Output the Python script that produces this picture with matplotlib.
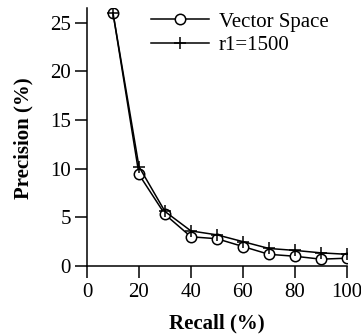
import matplotlib.pyplot as plt

recall = [10, 20, 30, 40, 50, 60, 70, 80, 90, 100]
vector_space = [26.0, 9.4, 5.3, 3.0, 2.8, 2.0, 1.2, 1.0, 0.7, 0.8]
r1_1500 = [26.0, 10.2, 5.6, 3.6, 3.2, 2.5, 1.8, 1.6, 1.35, 1.2]

plt.rcParams['font.family'] = ['Liberation Serif', 'DejaVu Serif']

fig = plt.figure(figsize=(3.61, 3.35), dpi=100)
ax = fig.add_axes([0.241, 0.206, 0.72, 0.77])

ax.plot(recall, vector_space, color='black', lw=1.1, marker='o', ms=7.5,
        mfc='white', mec='black', mew=1.1, label='Vector Space')
ax.plot(recall, r1_1500, color='black', lw=1.1, marker='+', ms=9,
        mew=1.1, label='r1=1500')

ax.set_xlim(0, 100)
ax.set_ylim(0, 26.5)
ax.set_xticks([0, 20, 40, 60, 80, 100])
ax.set_yticks([0, 5, 10, 15, 20, 25])
ax.spines['top'].set_visible(False)
ax.spines['right'].set_visible(False)
ax.spines['left'].set_linewidth(1.1)
ax.spines['bottom'].set_linewidth(1.1)
ax.tick_params(direction='out', length=8.5, width=1.1, labelsize=15)
ax.tick_params(axis='x', pad=4)
ax.tick_params(axis='y', pad=3)

ax.set_xlabel('Recall (%)', fontsize=15, fontweight='bold', va='center')
ax.set_ylabel('Precision (%)', fontsize=15, fontweight='bold', va='center')
ax.xaxis.set_label_coords(0.5, -0.221)
ax.yaxis.set_label_coords(-0.245, 0.496)

ax.legend(loc='upper left', bbox_to_anchor=(151 / 361, 1 - 12 / 335),
          bbox_transform=fig.transFigure, frameon=False, fontsize=15,
          handlelength=2.8, borderaxespad=0.0, borderpad=0.0,
          labelspacing=0.2, handletextpad=0.45)

fig.savefig('out.png', dpi=100)
